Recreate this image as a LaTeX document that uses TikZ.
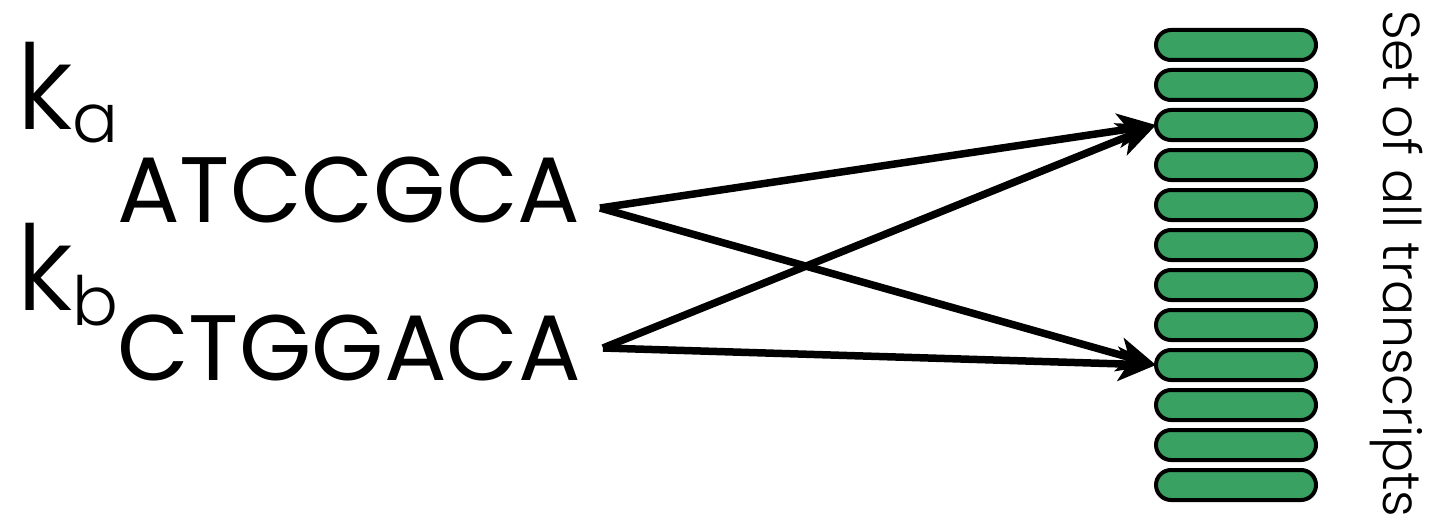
\documentclass[tikz,border=0pt]{standalone}
\usepackage{fontspec}
\setmainfont{Poppins}
\newfontfamily\lightfont{Poppins Light}
\usetikzlibrary{arrows.meta}
\definecolor{pillgreen}{RGB}{57,161,98}
\tikzset{
  pill/.style={draw=black, line width=4pt, fill=pillgreen, rounded corners=15pt,
    minimum width=160pt, minimum height=30pt, inner sep=0pt, outer sep=0pt},
  seq/.style={anchor=base west, inner sep=0pt, font=\fontsize{93}{93}\selectfont},
  kmer/.style={anchor=base west, inner sep=0pt, font=\lightfont},
  link/.style={line width=7.5pt, -{Stealth[length=38pt, width=34pt, inset=10pt]}},
}
\begin{document}
\begin{tikzpicture}[x=1pt, y=-1pt]
  \useasboundingbox (0,0) rectangle (1434,524);
  % k-mer labels and sequences
  \node[kmer] (ka) at (16,130) {{\fontsize{118}{118}\selectfont k}\raisebox{-13pt}{\fontsize{68}{68}\selectfont a}};
  \node[kmer] (kb) at (16,310) {{\fontsize{118}{118}\selectfont k}\raisebox{-15pt}{\fontsize{68}{68}\selectfont b}};
  \node[seq] (sa) at (117,222) {ATCCGCA};
  \node[seq] (sb) at (117,380) {CTGGACA};
  % stack of transcripts
  \foreach \i in {1,...,12} {
    \node[pill] (t\i) at (1236,{45+40*(\i-1)}) {};
  }
  \node[rotate=-90, anchor=base west, inner sep=0pt,
        font=\lightfont\fontsize{52}{52}\selectfont] (lbl) at (1383,10) {Set of all transcripts};
  % compatibility arrows
  \coordinate (oa) at (600,208);
  \coordinate (ob) at (603,348);
  \draw[link] (oa) -- (t3.west);
  \draw[link] (oa) -- (t9.west);
  \draw[link] (ob) -- (t3.west);
  \draw[link] (ob) -- (t9.west);
\end{tikzpicture}
\end{document}
